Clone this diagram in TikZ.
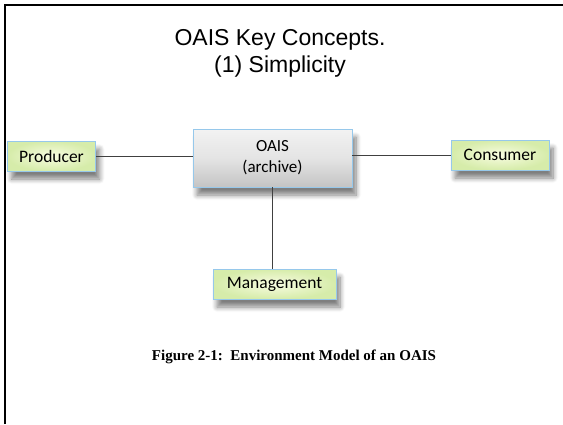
\documentclass[tikz,border=0pt]{standalone}
\usepackage{fontspec}
\setmainfont{Liberation Serif}
\newfontfamily\arialf{Liberation Sans}
\newfontfamily\calf{Carlito}
\usetikzlibrary{shadows.blur}
\definecolor{boxborder}{RGB}{150,200,235}
\definecolor{greenout}{RGB}{214,236,170}
\definecolor{greenin}{RGB}{248,252,225}
\definecolor{grayout}{RGB}{196,196,196}
\definecolor{grayin}{RGB}{242,242,242}
\tikzset{
  actor/.style={draw=boxborder, line width=0.8pt, inner color=greenin, outer color=greenout,
    minimum height=30pt, font=\calf\fontsize{17.5}{20}\selectfont, text=black,
    blur shadow={shadow xshift=4pt, shadow yshift=-8pt, shadow blur steps=8, shadow blur radius=5pt, shadow opacity=50}},
  archive/.style={draw=boxborder, line width=0.8pt, top color=grayin, bottom color=grayout, middle color=grayin!70!grayout,
    minimum width=159pt, minimum height=58pt, align=center, font=\calf\fontsize{17}{21}\selectfont,
    blur shadow={shadow xshift=4pt, shadow yshift=-8pt, shadow blur steps=8, shadow blur radius=5pt, shadow opacity=50}},
  link/.style={draw=black!75, line width=0.7pt}
}
\begin{document}
\begin{tikzpicture}[x=1pt,y=-1pt]
\useasboundingbox (0,0) rectangle (563,424);
\draw[line width=2pt] (5,424) -- (5,5) -- (563,5);
\node[font=\arialf\fontsize{23}{27}\selectfont, align=center] (title) at (280,53) {OAIS Key Concepts.\\(1) Simplicity};
\node[archive] (oais) at (272.5,158) {OAIS\\(archive)};
\node[actor, minimum width=88pt] (prod) at (51.5,156) {Producer};
\node[actor, minimum width=98pt] (cons) at (500,155) {Consumer};
\node[actor, minimum width=123pt] (mgmt) at (274.5,284) {Management};
\draw[link] (prod.east) -- (oais.west|-prod.east);
\draw[link] (oais.east|-cons.west) -- (cons.west);
\draw[link] (oais.south) -- (mgmt.north-|oais.south);
\node[font=\bfseries\fontsize{15}{17}\selectfont] (cap) at (294,357) {Figure 2-1:\ \ Environment Model of an OAIS};
\end{tikzpicture}
\end{document}
